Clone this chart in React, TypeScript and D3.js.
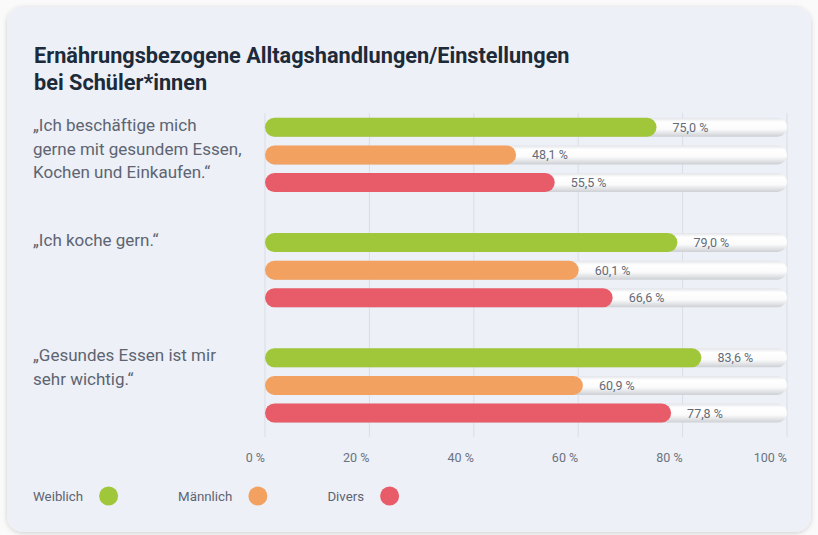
import React, { useMemo } from "react";
import * as d3 from "d3";

const titleLines = ["Ernährungsbezogene Alltagshandlungen/Einstellungen", "bei Schüler*innen"];
const categories = [
  ["„Ich beschäftige mich", "gerne mit gesundem Essen,", "Kochen und Einkaufen.“"],
  ["„Ich koche gern.“"],
  ["„Gesundes Essen ist mir", "sehr wichtig.“"],
];
const seriesNames = ["Weiblich", "Männlich", "Divers"];
const weiblich = [75.0, 79.0, 83.6];
const maennlich = [48.1, 60.1, 60.9];
const divers = [55.5, 66.6, 77.8];
const seriesColors = ["#a0c63a", "#f3a160", "#e85c69"];
const tickValues = [0, 20, 40, 60, 80, 100];

const W = 818;
const H = 535;
const FONT = "Roboto, 'Noto Sans', sans-serif";

const fmt = (v: number) => v.toFixed(1).replace(".", ",") + " %";

function measure(text: string, font: string): number {
  if (typeof document === "undefined") return text.length * 7;
  const c = document.createElement("canvas");
  const ctx = c.getContext("2d");
  if (!ctx) return text.length * 7;
  ctx.font = font;
  return ctx.measureText(text).width;
}

export default function App() {
  const values = [weiblich, maennlich, divers];
  const x = d3.scaleLinear().domain([0, 100]).range([265, 787]);
  const groupIdx = categories.map((_, i) => String(i));
  const y = d3.scaleBand().domain(groupIdx).range([113.4, 426.9]).paddingInner(0.28).paddingOuter(0);
  const yInner = d3
    .scaleBand()
    .domain(seriesNames)
    .range([0, y.bandwidth()])
    .paddingInner(0.314)
    .paddingOuter(0.157);

  const legendItems = useMemo(() => {
    let cx = 33;
    return seriesNames.map((name, i) => {
      const w = measure(name, `13.3px ${FONT}`);
      const tx = cx;
      const ccx = tx + w + 16 + 9.5;
      cx = ccx + 9.5 + 60;
      return { name, tx, ccx, color: seriesColors[i] };
    });
  }, []);

  return (
    <svg
      width={W}
      height={H}
      style={{ position: "absolute", left: 0, top: 0, fontFamily: FONT }}
    >
      <defs>
        <linearGradient id="track" x1="0" y1="0" x2="0" y2="1">
          <stop offset="0%" stopColor="#e2e4e8" />
          <stop offset="22%" stopColor="#ffffff" />
          <stop offset="60%" stopColor="#fbfbfb" />
          <stop offset="100%" stopColor="#cdd0d4" />
        </linearGradient>
        <filter id="cardShadow" x="-5%" y="-5%" width="110%" height="110%">
          <feDropShadow dx="0" dy="1" stdDeviation="2.5" floodColor="#000" floodOpacity="0.18" />
        </filter>
      </defs>
      <rect x={0} y={0} width={W} height={H} fill="#fafafb" />
      <rect x={7} y={7} width={804} height={525} rx={16} fill="#edf0f6" filter="url(#cardShadow)" />

      {titleLines.map((t, i) => (
        <text key={i} x={34} y={63 + i * 27} fontSize={21.7} fontWeight={700} fill="#1c2a39">
          {t}
        </text>
      ))}

      {tickValues.map((t) => (
        <g key={t}>
          <line x1={x(t)} x2={x(t)} y1={113} y2={437} stroke="#d9dde5" strokeWidth={1} />
          <text x={x(t)} y={462} textAnchor="end" fontSize={12.5} fill="#6b7280">
            {t} %
          </text>
        </g>
      ))}

      {categories.map((lines, gi) => {
        const g0 = y(String(gi)) as number;
        return (
          <g key={gi}>
            {lines.map((l, li) => (
              <text key={li} x={33} y={g0 + 17.5 + li * 23.7} fontSize={17} fill="#5d6472">
                {l}
              </text>
            ))}
            {seriesNames.map((s, si) => {
              const v = values[si][gi];
              const by = g0 + (yInner(s) as number);
              const bh = yInner.bandwidth();
              return (
                <g key={s}>
                  <rect
                    x={x(0)}
                    y={by}
                    width={x(100) - x(0)}
                    height={bh}
                    rx={bh / 2}
                    fill="url(#track)"
                  />
                  <rect
                    x={x(0)}
                    y={by}
                    width={x(v) - x(0)}
                    height={bh}
                    rx={bh / 2}
                    fill={seriesColors[si]}
                  />
                  <text x={x(v) + 16} y={by + bh / 2 + 4.5} fontSize={12.5} fill="#646b78">
                    {fmt(v)}
                  </text>
                </g>
              );
            })}
          </g>
        );
      })}

      {legendItems.map((it) => (
        <g key={it.name}>
          <text x={it.tx} y={501} fontSize={13.3} fill="#5d6472">
            {it.name}
          </text>
          <circle cx={it.ccx} cy={496} r={9.5} fill={it.color} />
        </g>
      ))}
    </svg>
  );
}
